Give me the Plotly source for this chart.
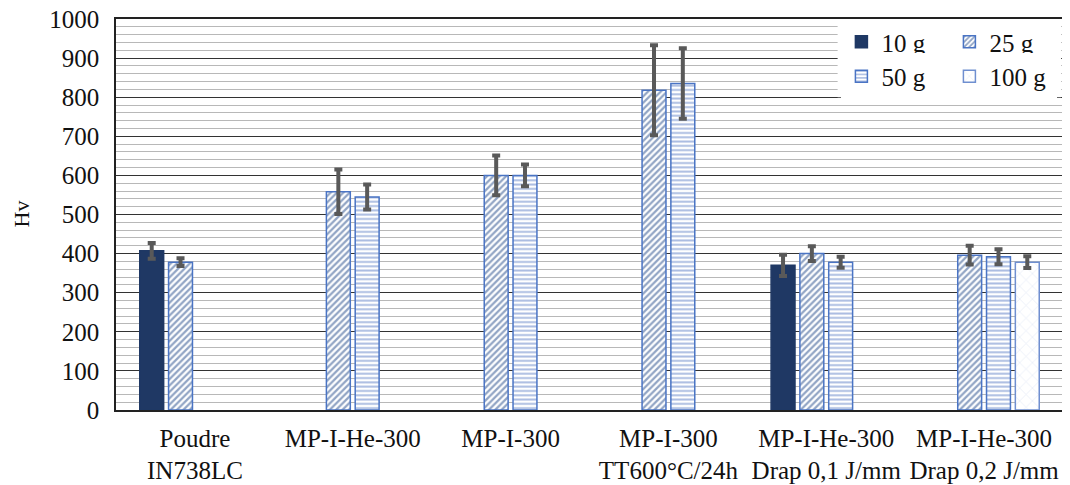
import plotly.graph_objects as go

categories = ["Poudre<br>IN738LC", "MP-I-He-300", "MP-I-300",
              "MP-I-300<br>TT600°C/24h", "MP-I-He-300<br>Drap 0,1 J/mm",
              "MP-I-He-300<br>Drap 0,2 J/mm"]

hv_10g = [407, None, None, None, 370, None]
err_10g = [20, None, None, None, 27, None]
hv_25g = [378, 558, 600, 818, 400, 396]
err_25g = [10, 57, 51, 115, 19, 24]
hv_50g = [None, 545, 600, 835, 378, 392]
err_50g = [None, 32, 28, 90, 14, 19]
hv_100g = [None, None, None, None, None, 378]
err_100g = [None, None, None, None, None, 15]

y_ticks = list(range(0, 1001, 100))

FONT = "Liberation Serif"
BORDER = "#4a74c4"
ERR = "#595959"
TXT = "#111"

def err(vals):
    return dict(type="data", array=vals, visible=True, color=ERR, thickness=4, width=4)

fig = go.Figure()
fig.add_trace(go.Bar(
    name="10 g", x=categories, y=hv_10g, error_y=err(err_10g), legend="legend",
    marker=dict(color="#1f3864", line=dict(color="#1f3864", width=1.5))))
fig.add_trace(go.Bar(
    name="25 g", x=categories, y=hv_25g, error_y=err(err_25g), legend="legend",
    marker=dict(color="white", line=dict(color=BORDER, width=1.5),
                pattern=dict(shape="/", fgcolor="#234a8a", bgcolor="white",
                             size=4.5, solidity=0.5))))
fig.add_trace(go.Bar(
    name="50 g", x=categories, y=hv_50g, error_y=err(err_50g), legend="legend2",
    marker=dict(color="white", line=dict(color=BORDER, width=1.5),
                pattern=dict(shape="-", fgcolor="#5679c4", bgcolor="white",
                             size=4.3, solidity=0.45))))
fig.add_trace(go.Bar(
    name="100 g", x=categories, y=hv_100g, error_y=err(err_100g), legend="legend2",
    marker=dict(color="white", line=dict(color="#6f8fd0", width=1.5),
                pattern=dict(shape="x", fgcolor="#cdd8ee", bgcolor="white",
                             size=9, solidity=0.15))))

legend_common = dict(orientation="h", bgcolor="white", borderwidth=0,
                     font=dict(family=FONT, size=25, color=TXT),
                     entrywidth=63, entrywidthmode="pixels",
                     xanchor="left", yanchor="top", traceorder="normal",
                     itemclick=False)

# the page body adds an 8 px offset, so the figure is sized to the visible area
fig.update_layout(
    width=1062, height=477,
    margin=dict(l=108, r=7, t=11, b=75),
    paper_bgcolor="white", plot_bgcolor="white",
    barmode="group", bargap=0.27, bargroupgap=0.17,
    font=dict(family=FONT, size=25, color=TXT),
    showlegend=True,
    legend=dict(x=0.766, y=1.0, **legend_common),
    legend2=dict(x=0.766, y=0.912, **legend_common),
    shapes=[dict(type="rect", xref="paper", yref="paper", x0=0.762, x1=0.998,
                 y0=0.8, y1=0.997, fillcolor="white", line=dict(width=0),
                 layer="above")],
    annotations=[dict(text="Hv", xref="paper", yref="paper", x=0, y=0.5,
                      xanchor="center", yanchor="middle", xshift=-95,
                      textangle=-90, showarrow=False,
                      font=dict(family=FONT, size=22, color=TXT))],
    xaxis=dict(showline=True, linecolor="#222", linewidth=1.5, mirror=True,
               ticks="", tickfont=dict(family=FONT, size=25, color=TXT),
               ticklabelstandoff=5, showgrid=False, automargin=False),
    yaxis=dict(range=[0, 1000], tickvals=y_ticks, showline=True, linecolor="#222",
               linewidth=1.5, mirror=True, ticks="",
               tickfont=dict(family=FONT, size=25, color=TXT),
               ticklabelstandoff=10, ticklabeloverflow="allow", automargin=False,
               showgrid=True, gridcolor="#333", gridwidth=1, zeroline=False,
               minor=dict(dtick=20, showgrid=True, gridcolor="#b8b8b8", gridwidth=1)),
)

fig.write_html("out.html")
